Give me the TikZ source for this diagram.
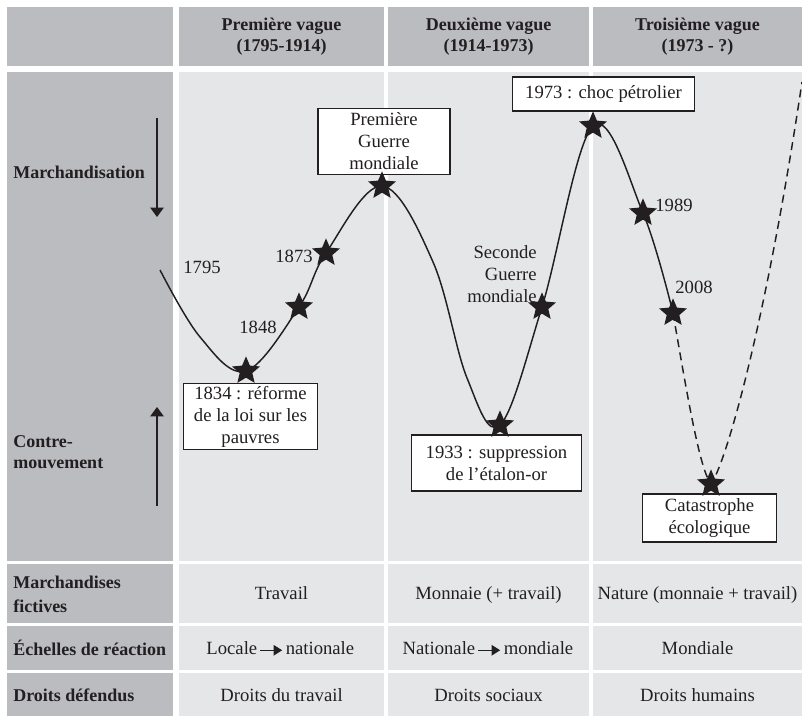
\documentclass[tikz,border=0pt]{standalone}
\usepackage{fontspec}
\setmainfont{Liberation Serif}
\usetikzlibrary{shapes.geometric,arrows.meta}
\definecolor{darkcell}{HTML}{BBBCC0}
\definecolor{lightcell}{HTML}{E5E6E8}
\definecolor{ink}{HTML}{231F20}
\begin{document}
\begin{tikzpicture}[x=0.75pt,y=-0.75pt,
  every node/.style={text=ink},
  bodytext/.style={font=\fontsize{14}{16.5}\selectfont},
  hdr/.style={font=\fontsize{13.5}{15.5}\selectfont\bfseries, align=center},
  sidelabel/.style={font=\fontsize{13.5}{16}\selectfont\bfseries, align=left, anchor=west, inner sep=0pt},
  cell/.style={bodytext, anchor=base, inner sep=0pt},
  evbox/.style={bodytext, draw=ink, fill=white, line width=0.8pt, align=center, inner sep=1pt},
  yearlabel/.style={bodytext, inner sep=0pt},
  starmark/.style={star, star points=5, star point ratio=2.2, fill=ink, draw=none, inner sep=0pt, minimum size=22pt},
  wave/.style={draw=ink, line width=1.1pt},
  sidearrow/.style={draw=ink, line width=1pt, -{Triangle[length=7pt,width=10pt]}},
  scalearrow/.style={draw=ink, line width=0.9pt, -{Triangle[length=6.5pt,width=8pt]}},
]
\useasboundingbox (0,0) rectangle (802,716);
\fill[white] (0,0) rectangle (802,716);

% ---- cells ----
% header
\fill[darkcell] (7,7) rectangle (173,66);
\fill[darkcell] (179,7) rectangle (384,66);
\fill[darkcell] (388,7) rectangle (589,66);
\fill[darkcell] (593,7) rectangle (802,66);
% main panel
\fill[darkcell] (7,72) rectangle (173,561);
\fill[lightcell] (179,72) rectangle (384,561);
\fill[lightcell] (388,72) rectangle (589,561);
\fill[lightcell] (593,72) rectangle (802,561);
% row 1
\fill[darkcell] (7,564) rectangle (173,623);
\fill[lightcell] (179,564) rectangle (384,623);
\fill[lightcell] (388,564) rectangle (589,623);
\fill[lightcell] (593,564) rectangle (802,623);
% row 2
\fill[darkcell] (7,626) rectangle (173,670);
\fill[lightcell] (179,626) rectangle (384,670);
\fill[lightcell] (388,626) rectangle (589,670);
\fill[lightcell] (593,626) rectangle (802,670);
% row 3
\fill[darkcell] (7,673) rectangle (173,716);
\fill[lightcell] (179,673) rectangle (384,716);
\fill[lightcell] (388,673) rectangle (589,716);
\fill[lightcell] (593,673) rectangle (802,716);

% ---- headers ----
\node[hdr] (h1) at (281.5,37) {Première vague\\(1795-1914)};
\node[hdr] (h2) at (488.5,37) {Deuxième vague\\(1914-1973)};
\node[hdr] (h3) at (697.5,37) {Troisième vague\\(1973 - ?)};

% ---- side labels and arrows ----
\node[sidelabel] (lmarch) at (13,172) {Marchandisation};
\node[sidelabel] (lcontre) at (13,452) {Contre-\\mouvement};
\coordinate (marchTop) at (157,118);
\coordinate (marchBot) at (157,217);
\draw[sidearrow] (marchTop) -- (marchBot);
\coordinate (cmBot) at (157,506);
\coordinate (cmTop) at (157,407);
\draw[sidearrow] (cmBot) -- (cmTop);

% ---- event boxes ----
\node[evbox, minimum width=99pt, minimum height=49pt] (bwar1) at (384,141.5) {Première\\Guerre\\mondiale};
\node[evbox, minimum width=136pt, minimum height=25.5pt] (b1973) at (603.5,94) {1973 : choc pétrolier};
\node[evbox, minimum width=100pt, minimum height=49pt] (b1834) at (250.5,416.5) {1834 : réforme\\de la loi sur les\\pauvres};
\node[evbox, minimum width=128pt, minimum height=42pt] (b1933) at (496.5,463) {1933 : suppression\\de l’étalon-or};
\node[evbox, minimum width=100pt, minimum height=36pt] (bcat) at (709.5,518) {Catastrophe\\écologique};

% ---- year labels ----
\node[yearlabel] (l1795) at (202,267) {1795};
\node[yearlabel] (l1873) at (294,256) {1873};
\node[yearlabel] (l1848) at (258,327) {1848};
\node[yearlabel] (l1989) at (674,205) {1989};
\node[yearlabel] (l2008) at (694,287) {2008};
\node[yearlabel, align=right, anchor=east] (lsec) at (537,274) {Seconde\\Guerre\\mondiale};

% ---- stars on the wave ----
\coordinate (wstart) at (160,270);
\coordinate (wend) at (802,82);
\node[starmark] (s1834) at (246,371) {};
\node[starmark] (s1848) at (299,307) {};
\node[starmark] (s1873) at (326,253) {};
\node[starmark] (swar1) at (382,186) {};
\node[starmark] (s1933) at (500,425) {};
\node[starmark] (swar2) at (542,307) {};
\node[starmark] (s1973) at (593,126) {};
\node[starmark] (s1989) at (643,213) {};
\node[starmark] (s2008) at (673,313) {};
\node[starmark] (scat) at (711,484) {};

% ---- wave ----
\draw[wave] plot[smooth, tension=0.6] coordinates {
  (wstart) (200,337) (s1834.center) (s1848.center) (s1873.center)
  (swar1.center) (433,262) (467,378) (s1933.center) (swar2.center)
  (s1973.center) (s1989.center) (s2008.center)};
\draw[wave, dash pattern=on 6pt off 4pt]
  (s2008.center) .. controls (688,400) and (700,470) .. (scat.center)
  .. controls (725,465) and (765,330) .. (wend);

% ---- bottom rows ----
\node[sidelabel, font=\fontsize{13.5}{18}\selectfont\bfseries] (lfict) at (13,594) {Marchandises\\fictives};
\node[sidelabel] (lech) at (13,648) {Échelles de réaction};
\node[sidelabel] (ldroit) at (13,695) {Droits défendus};

\node[cell] (f1) at (281.5,599) {Travail};
\node[cell] (f2) at (488.5,599) {Monnaie (+ travail)};
\node[cell] (f3) at (697.5,599) {Nature (monnaie + travail)};

\node[cell, anchor=base east] (loc) at (257.5,654) {Locale};
\node[cell, anchor=base west] (nat) at (285.5,654) {nationale};
\draw[scalearrow] ([xshift=2pt,yshift=2.8pt]loc.base east) -- ([xshift=-2.5pt,yshift=2.8pt]nat.base west);
\node[cell, anchor=base east] (natl) at (475.5,654) {Nationale};
\node[cell, anchor=base west] (mond) at (503.5,654) {mondiale};
\draw[scalearrow] ([xshift=2pt,yshift=2.8pt]natl.base east) -- ([xshift=-2.5pt,yshift=2.8pt]mond.base west);
\node[cell] (e3) at (697.5,654) {Mondiale};

\node[cell] (d1) at (281.5,701) {Droits du travail};
\node[cell] (d2) at (488.5,701) {Droits sociaux};
\node[cell] (d3) at (697.5,701) {Droits humains};
\end{tikzpicture}
\end{document}
